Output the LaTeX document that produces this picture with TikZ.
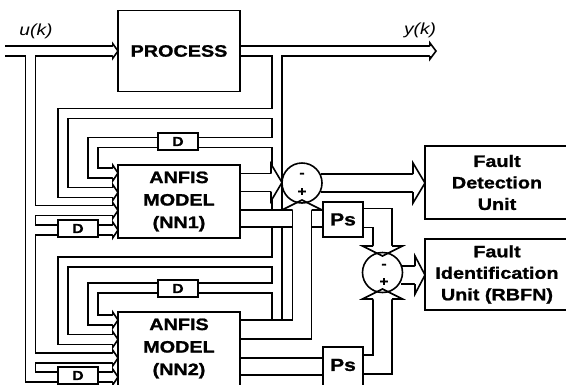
\documentclass[tikz,border=0pt]{standalone}
\usepackage{fontspec}
\newfontfamily\lab[FakeStretch=1.2,BoldFeatures={FakeBold=1.2}]{Liberation Sans}
\newcommand\pipes[2][10]{%
  \draw[line width=#1pt+1.6pt] #2;
  \draw[white, line width=#1pt-1.6pt] #2;}
\newcommand\harr[5]{%
  \begin{scope}[shift={#1},rotate=#2]
    \fill[white] (-#5-0.8,-#3+0.8) -- (-#5,-#3+0.8) -- (-#5,-#3-#4) -- (0,0) -- (-#5,#3+#4) -- (-#5,#3-0.8) -- (-#5-0.8,#3-0.8) -- cycle;
    \draw (-#5,-#3) -- (-#5,-#3-#4) -- (0,0) -- (-#5,#3+#4) -- (-#5,#3);
  \end{scope}}
\begin{document}
\begin{tikzpicture}[x=1pt,y=-1pt,line width=1.6pt,line join=miter,
  box/.style={draw,fill=white,line width=1.6pt,inner sep=0pt},
  big/.style={font=\lab\bfseries\fontsize{16.5}{22.5}\selectfont,align=center,inner sep=0pt},
  unit/.style={font=\lab\bfseries\fontsize{16.5}{21.5}\selectfont,align=center,inner sep=0pt},
  dl/.style={box,minimum width=40pt,minimum height=17pt,font=\lab\bfseries\fontsize{13}{13}\selectfont},
  ps/.style={box,minimum width=40pt,font=\lab\bfseries\fontsize{17.5}{17.5}\selectfont},
  sig/.style={font=\lab\itshape\fontsize{16}{16}\selectfont,inner sep=0pt},
  sgn/.style={font=\lab\bfseries\fontsize{13}{13}\selectfont,inner sep=0pt}]
\useasboundingbox[fill=white] (0,0) rectangle (566,384);

% y(k) pipes
\pipes{(240,51) -- (430,51)
  (277,51) -- (277,320)
  (277,113.5) -- (63,113.5) -- (63,192.5) -- (113,192.5)
  (277,142.5) -- (93,142.5) -- (93,173) -- (113,173)
  (277,262) -- (63,262) -- (63,339.5) -- (113,339.5)
  (277,288) -- (93,288) -- (93,320) -- (113,320)}
% u(k) pipes
\pipes{(5,51) -- (113,51)
  (30.5,51) -- (30.5,377) -- (113,377)
  (30.5,210.5) -- (113,210.5)
  (30.5,230) -- (113,230)
  (30.5,358) -- (113,358)}
% wide pipes
\pipes[18]{(240,182.5) -- (271,182.5)}
\pipes[17]{(240,218.5) -- (323,218.5)}
\pipes[19]{(240,329.5) -- (302,329.5) -- (302,210)}
\pipes[17]{(240,366.5) -- (323,366.5)}
\pipes[19]{(363,218) -- (382.5,218) -- (382.5,246)}
\pipes[19]{(363,364.5) -- (382.5,364.5) -- (382.5,299)}
\pipes[18]{(321,183) -- (413,183)}
\pipes[18]{(401,275) -- (415,275)}

% arrowheads
\harr{(118,51)}{0}{5}{2}{5}
\harr{(436,51)}{0}{5}{3}{6}
\foreach \yy in {173,192.5,210.5,230,320,339.5,358,377} {\harr{(118,\yy)}{0}{5}{2.5}{5}}
\harr{(282,182.5)}{0}{9}{9.5}{11}
\harr{(302,200)}{90}{9.5}{10.5}{10}
\harr{(382.5,256)}{-90}{9.5}{10.5}{10}
\harr{(382.5,289)}{90}{9.5}{10.5}{10}
\harr{(425,183)}{0}{9}{11}{12}
\harr{(425,275)}{0}{9}{10}{10}

% boxes
\node[box,big,minimum width=122pt,minimum height=81pt] (proc) at (179,51) {PROCESS};
\node[box,big,minimum width=122pt,minimum height=73pt] (nn1) at (179,201.5) {ANFIS\\MODEL\\(NN1)};
\node[box,minimum width=122pt,minimum height=80pt] (nn2) at (179,352) {};
\node[big] (nn2t) at (179,348.5) {ANFIS\\MODEL\\(NN2)};
\node[box,unit,minimum width=144pt,minimum height=73pt] (fdu) at (497,182.5) {Fault\\Detection\\Unit};
\node[box,unit,minimum width=144pt,minimum height=71pt] (fiu) at (497,274.5) {Fault\\Identification\\Unit (RBFN)};
\node[ps,minimum height=35pt] (ps1) at (343,219.5) {Ps};
\node[ps,minimum height=42pt] (ps2) at (343,368) {};
\node[ps,draw=none,fill=none] (ps2t) at (343,365) {Ps};
\node[dl] (d1y) at (178,141.5) {D};
\node[dl] (d1u) at (78,228.5) {D};
\node[dl] (d2y) at (178,288.5) {D};
\node[dl] (d2u) at (78,375.5) {D};

% summing junctions
\node[draw,circle,minimum size=40pt,inner sep=0pt] (s1) at (302,183) {};
\node[sgn] (s1m) at (302,175) {-};
\node[sgn] (s1p) at (302,192) {+};
\node[draw,circle,minimum size=40pt,inner sep=0pt] (s2) at (382.5,272.5) {};
\node[sgn] (s2m) at (384,266) {-};
\node[sgn] (s2p) at (384,282) {+};

% signal labels
\node[sig] (lu) at (36,31) {u(k)};
\node[sig] (ly) at (420,30) {y(k)};
\end{tikzpicture}
\end{document}
